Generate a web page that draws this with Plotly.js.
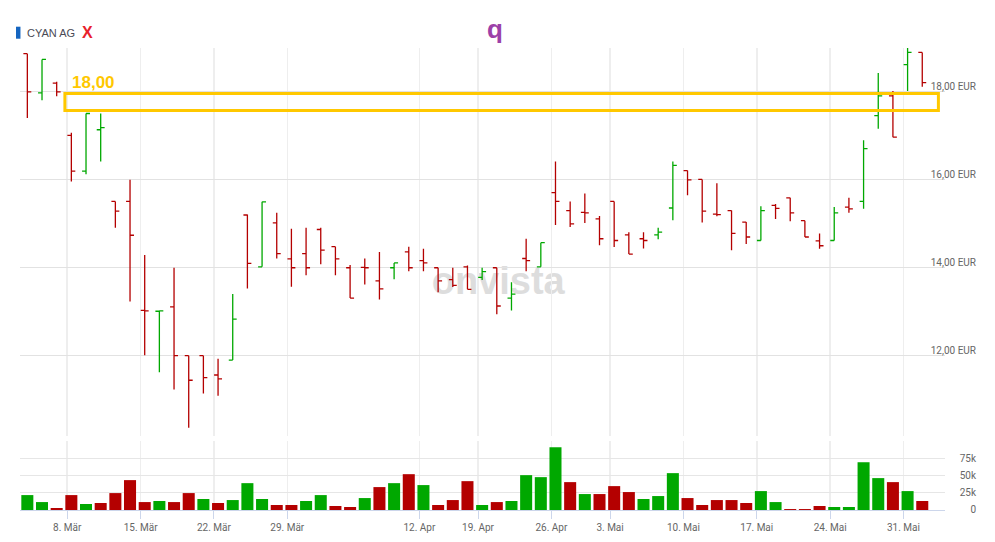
<!DOCTYPE html>
<html><head><meta charset="utf-8">
<script src="https://cdn.plot.ly/plotly-3.0.1.min.js"></script>
<style>html,body{margin:0;padding:0;background:#fff}#chart{width:995px;height:542px}</style>
</head><body><div id="chart"></div>
<script>
// ---- data ----
const dates = ['03.03','04.03','05.03',
  '08.03','09.03','10.03','11.03','12.03',
  '15.03','16.03','17.03','18.03','19.03',
  '22.03','23.03','24.03','25.03','26.03',
  '29.03','30.03','31.03','01.04','02.04','06.04','07.04','08.04','09.04',
  '12.04','13.04','14.04','15.04',
  '19.04','20.04','21.04','22.04','23.04',
  '26.04','27.04','28.04','29.04',
  '03.05','04.05','05.05','06.05','07.05',
  '10.05','11.05','12.05','13.05','14.05',
  '17.05','18.05','19.05','20.05','21.05',
  '24.05','25.05','26.05','27.05','28.05',
  '31.05','01.06'];
const openPrices = [18.87,17.98,18.20,17.01,16.20,17.14,15.51,15.51,13.03,13.01,
  13.11,12.00,12.00,11.56,11.90,15.20,14.02,15.02,14.20,14.32,
  14.87,14.48,14.00,14.01,13.70,14.00,14.36,14.16,14.00,13.73,
  14.02,13.78,14.00,13.31,14.21,14.02,15.71,15.30,15.26,15.11,
  15.51,14.75,14.66,14.75,15.36,16.21,16.01,15.22,15.30,15.04,
  14.62,15.42,15.59,15.07,14.61,14.62,15.38,15.51,17.46,17.91,
  18.62,18.90];
const highPrices = [18.87,18.74,18.23,17.07,17.51,17.51,15.51,16.00,14.29,13.02,
  14.00,12.00,12.00,11.93,13.40,15.21,15.50,15.25,14.89,14.91,
  14.91,14.48,14.06,14.21,14.36,14.11,14.48,14.43,14.00,14.00,
  14.05,14.00,14.00,13.67,14.66,14.57,16.42,15.51,15.69,15.18,
  15.51,14.81,14.81,14.91,16.42,16.21,16.01,15.92,15.30,15.04,
  15.40,15.45,15.59,15.07,14.78,15.38,15.59,16.90,18.43,18.02,
  19.00,18.90];
const lowPrices = [17.41,17.81,17.90,15.96,16.13,16.42,14.91,13.23,12.01,11.62,
  11.23,10.36,11.14,11.09,11.90,13.53,14.02,14.21,13.57,13.83,
  14.08,13.83,13.31,13.62,13.28,13.74,13.92,13.92,13.44,13.56,
  13.51,13.72,12.94,13.03,13.92,14.02,14.97,14.93,15.02,14.51,
  14.47,14.31,14.44,14.65,15.08,15.65,15.03,15.17,14.40,14.54,
  14.62,15.11,15.06,14.70,14.43,14.62,15.25,15.34,17.16,16.97,
  18.02,18.12];
const closePrices = [18.00,18.74,18.00,16.20,17.51,17.19,15.29,14.74,13.02,13.02,
  12.00,11.44,11.50,11.47,12.83,14.10,15.50,14.32,14.00,14.00,
  14.40,14.20,13.31,14.00,13.52,14.11,14.00,14.11,13.70,13.60,
  13.51,13.91,13.13,13.40,14.16,14.57,15.51,15.00,15.25,14.66,
  14.62,14.31,14.62,14.81,16.33,16.00,15.29,15.21,14.78,14.70,
  15.30,15.35,15.25,14.70,14.50,15.25,15.34,16.71,17.91,16.97,
  18.90,18.21];
const volumes = [21600,11500,2900,21600,8700,10100,24500,43300,11500,13000,
  11500,24500,15900,10100,14400,38900,15900,7200,7200,13000,
  21600,5800,4300,17300,33200,38900,51900,36100,7200,14400,
  41800,7200,11500,13000,50500,47600,90900,40400,23100,23100,
  34600,26000,15900,20200,53400,17300,7200,14400,14400,10100,
  27400,11500,1400,1400,5800,4300,4300,69200,46200,40400,
  27400,13000];
const tickDates = ['08.03','15.03','22.03','29.03','12.04','19.04','26.04','03.05','10.05','17.05','24.05','31.05'];
const tickLabels = ['8. Mär','15. Mär','22. Mär','29. Mär','12. Apr','19. Apr','26. Apr','3. Mai','10. Mai','17. Mai','24. Mai','31. Mai'];
const priceTicks = [12, 14, 16, 18];
const priceTickText = ['12,00 EUR', '14,00 EUR', '16,00 EUR', '18,00 EUR'];
const volTickVals = [0, 25000, 50000, 75000, 100000];
const volTickText = ['0', '25k', '50k', '75k', ''];
const seriesName = 'CYAN AG';
const alertLabel = '18,00';
const alertLow = 17.58, alertHigh = 17.965;
const chartTitle = 'q';
const watermark = 'onvista';

// ---- styling ----
const GREEN = '#00a800', RED = '#b40000';
const idx = dates.map((d, i) => i);
const volColors = closePrices.map((c, i) => i === 0 ? GREEN : (c >= closePrices[i - 1] ? GREEN : RED));
const tickPos = tickDates.map(d => dates.indexOf(d) - 0.28);
const xRange = [-0.5, 62.55];
const axFont = {family: 'Roboto, sans-serif', size: 10, color: '#666666'};

const traces = [
  {type: 'ohlc', x: idx, open: openPrices, high: highPrices, low: lowPrices, close: closePrices,
   xaxis: 'x', yaxis: 'y', tickwidth: 0.27, hoverinfo: 'skip', showlegend: false, name: seriesName,
   increasing: {line: {color: GREEN, width: 1.3}}, decreasing: {line: {color: RED, width: 1.3}}},
  {type: 'bar', x: idx, y: volumes, xaxis: 'x2', yaxis: 'y2', width: 0.82, hoverinfo: 'skip',
   showlegend: false, marker: {color: volColors, line: {width: 0}}}
];

const layout = {
  width: 995, height: 542,
  margin: {l: 20, r: 50, t: 48, b: 32, pad: 0},
  paper_bgcolor: '#ffffff', plot_bgcolor: '#ffffff',
  separators: ',.', showlegend: false, hovermode: false,
  font: axFont,
  xaxis: {range: xRange, anchor: 'y', domain: [0, 1], tickmode: 'array', tickvals: tickPos,
    showticklabels: false, ticks: '', showgrid: true, gridcolor: '#eeeeee', gridwidth: 1.5,
    zeroline: false, showline: false, rangeslider: {visible: false}, fixedrange: true},
  xaxis2: {range: xRange, anchor: 'y2', domain: [0, 1], tickmode: 'array', tickvals: tickPos,
    ticktext: tickLabels, ticks: 'outside', ticklen: 8, tickcolor: '#ccd6eb', tickwidth: 1,
    showline: true, linecolor: '#ccd6eb', linewidth: 1, showgrid: true, gridcolor: '#eeeeee',
    gridwidth: 1.5, zeroline: false, tickfont: axFont, fixedrange: true},
  yaxis: {domain: [0.1602, 1], range: [10.172, 19.0], tickmode: 'array', tickvals: priceTicks,
    ticktext: priceTickText, side: 'left', anchor: 'free', position: 1,
    showgrid: true, gridcolor: '#e2e2e2', gridwidth: 1, zeroline: false, ticks: '',
    ticklabelstandoff: -31, ticklabelshift: -5, tickfont: axFont, fixedrange: true},
  yaxis2: {domain: [0, 0.1494], range: [0, 100000], tickmode: 'array', tickvals: volTickVals,
    ticktext: volTickText, side: 'left', anchor: 'free', position: 1,
    showgrid: true, gridcolor: '#e6e6e6', gridwidth: 1, zeroline: false, ticks: '',
    ticklabelstandoff: -31, tickfont: axFont, fixedrange: true},
  shapes: [
    {type: 'rect', xref: 'paper', yref: 'paper', x0: 0.441, x1: 0.593, y0: 0.475, y1: 0.535,
     layer: 'below', line: {width: 0}, fillcolor: 'rgba(0,0,0,0)',
     label: {text: watermark, textposition: 'middle center',
       font: {family: 'Liberation Sans, Arial, sans-serif', size: 38, color: '#dddddd', weight: 'bold'}}},
    {type: 'rect', xref: 'x', yref: 'y', x0: 2.56, x1: 62.1, y0: alertLow, y1: alertHigh,
     line: {color: '#ffc800', width: 3}, fillcolor: 'rgba(0,0,0,0)'},
    {type: 'rect', xref: 'paper', yref: 'paper', x0: -0.0043, x1: 0.0005, y0: 1.0201, y1: 1.0461,
     line: {width: 0}, fillcolor: '#1565c0'}
  ],
  annotations: [
    {text: seriesName, xref: 'paper', yref: 'paper', x: 0.0054, y: 1.0335, xanchor: 'left', yanchor: 'middle',
     showarrow: false, font: {family: 'Liberation Sans, Arial, sans-serif', size: 11, color: '#4a4a55'}},
    {text: '<b>X</b>', xref: 'paper', yref: 'paper', x: 0.0645, y: 1.0345, xanchor: 'left', yanchor: 'middle',
     showarrow: false, font: {family: 'Liberation Sans, Arial, sans-serif', size: 16, color: '#e8212b'}},
    {text: '<b>' + chartTitle + '</b>', xref: 'paper', yref: 'paper', x: 0.514, y: 1.0418, xanchor: 'center', yanchor: 'middle',
     showarrow: false, font: {family: 'Liberation Sans, Arial, sans-serif', size: 26, color: '#9c40a8'}},
    {text: '<b>' + alertLabel + '</b>', xref: 'paper', yref: 'paper', x: 0.0545, y: 0.9264, xanchor: 'left', yanchor: 'middle',
     showarrow: false, font: {family: 'Liberation Sans, Arial, sans-serif', size: 17, color: '#ffc800'}}
  ]
};

Plotly.newPlot('chart', traces, layout, {staticPlot: true, displayModeBar: false});
</script></body></html>
